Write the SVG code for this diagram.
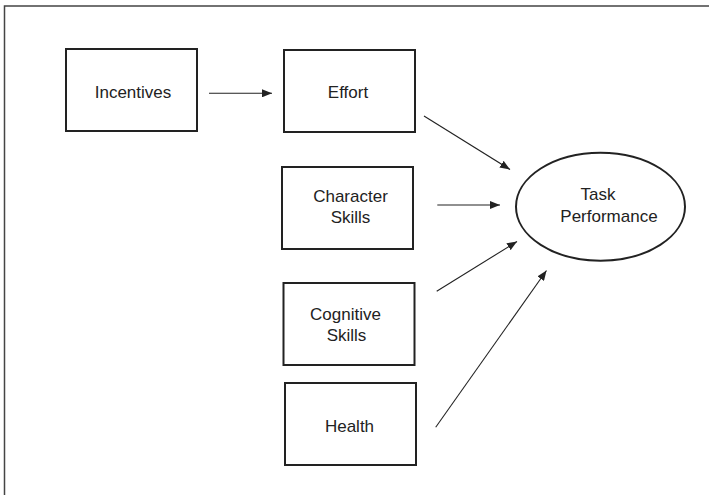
<svg xmlns="http://www.w3.org/2000/svg" width="709" height="495" viewBox="0 0 709 495">
  <style>
    .box { fill: #fff; stroke: #222; stroke-width: 2; }
    .lbl { font-family: "Liberation Sans", Arial, sans-serif; font-size: 17px; fill: #222; text-anchor: middle; }
    .edge { stroke: #222; stroke-width: 1.1; fill: none; marker-end: url(#head); }
    .frame { stroke: #444; stroke-width: 1.5; fill: none; }
  </style>
  <defs>
    <marker id="head" viewBox="0 0 10 8" refX="10" refY="4" markerWidth="10" markerHeight="8" markerUnits="userSpaceOnUse" orient="auto">
      <path d="M0,0 L10,4 L0,8 Z" fill="#222"/>
    </marker>
  </defs>
  <rect width="709" height="495" fill="#fff"/>
  <path class="frame" d="M4.5,495 V6 H709"/>

  <g id="incentives">
    <rect class="box" x="66" y="49" width="131" height="82"/>
    <text class="lbl" x="133" y="98">Incentives</text>
  </g>
  <g id="effort">
    <rect class="box" x="284" y="50" width="131" height="82"/>
    <text class="lbl" x="348" y="98">Effort</text>
  </g>
  <g id="character-skills">
    <rect class="box" x="282" y="167" width="131" height="82"/>
    <text class="lbl" x="350.5" y="201.5">Character</text>
    <text class="lbl" x="350.5" y="223">Skills</text>
  </g>
  <g id="cognitive-skills">
    <rect class="box" x="283.5" y="283" width="131" height="82"/>
    <text class="lbl" x="345.5" y="320">Cognitive</text>
    <text class="lbl" x="346.5" y="341">Skills</text>
  </g>
  <g id="health">
    <rect class="box" x="285" y="383" width="131" height="82"/>
    <text class="lbl" x="349.5" y="431.5">Health</text>
  </g>
  <g id="task-performance">
    <ellipse class="box" cx="600.5" cy="206.7" rx="84.5" ry="54"/>
    <text class="lbl" x="598" y="200">Task</text>
    <text class="lbl" x="609" y="221.5">Performance</text>
  </g>

  <g id="connectors">
    <line class="edge" x1="209" y1="93.3" x2="272" y2="93.3"/>
    <line class="edge" x1="424" y1="116" x2="510" y2="169.5"/>
    <line class="edge" x1="437.3" y1="205" x2="500" y2="205"/>
    <line class="edge" x1="436.7" y1="291.3" x2="517" y2="241.5"/>
    <line class="edge" x1="435.7" y1="427.3" x2="546.5" y2="270.5"/>
  </g>
</svg>
